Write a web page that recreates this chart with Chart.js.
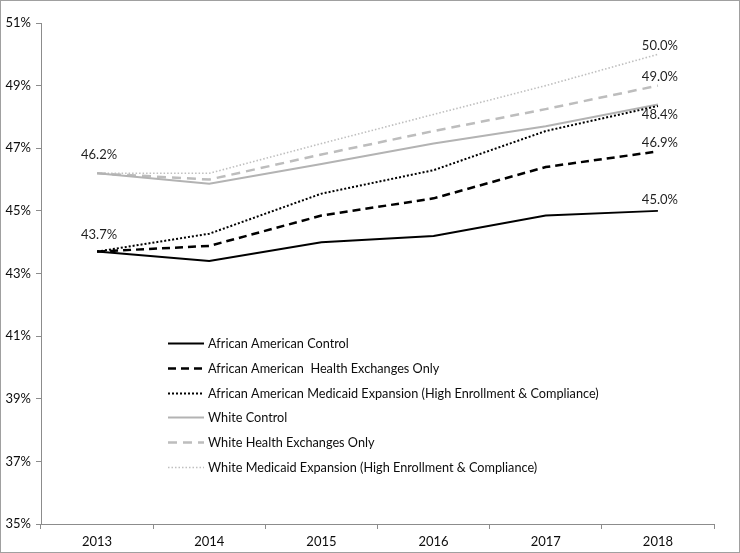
<!DOCTYPE html>
<html>
<head>
<meta charset="utf-8">
<script src="https://cdn.jsdelivr.net/npm/chart.js"></script>
<style>
  html, body { margin: 0; padding: 0; background: #fff; }
  #wrap {
    width: 740px; height: 553px;
    box-sizing: border-box;
    border: 1px solid #a0a0a0;
    background: #fff;
  }
  canvas { display: block; }
</style>
</head>
<body>
<div id="wrap"><canvas id="chart" width="738" height="551"></canvas></div>
<script>
// ---- chart data ----
const years = ['2013', '2014', '2015', '2016', '2017', '2018'];

const aaControl  = [43.7, 43.4, 44.0, 44.2, 44.85, 45.0];
const aaExchange = [43.7, 43.88, 44.85, 45.4, 46.4, 46.9];
const aaMedicaid = [43.7, 44.27, 45.55, 46.3, 47.55, 48.35];
const whControl  = [46.2, 45.87, 46.5, 47.15, 47.7, 48.4];
const whExchange = [46.2, 46.0, 46.8, 47.55, 48.25, 49.0];
const whMedicaid = [46.2, 46.2, 47.15, 48.08, 49.0, 50.0];

const yTicks = [35, 37, 39, 41, 43, 45, 47, 49, 51];

const FONT = 'Lato, "Open Sans", sans-serif';

// value labels: which series / which point, drawn above or below the line
const valueLabels = [
    { ds: 3, i: 0, pos: 'above', gap: 18 },
    { ds: 0, i: 0, pos: 'above', gap: 17 },
    { ds: 5, i: 5, pos: 'above', gap: 9 },
    { ds: 4, i: 5, pos: 'above', gap: 9 },
    { ds: 3, i: 5, pos: 'below', gap: 10 },
    { ds: 1, i: 5, pos: 'above', gap: 9 },
    { ds: 0, i: 5, pos: 'above', gap: 11 }
];

const valueLabelPlugin = {
    id: 'valueLabels',
    afterDatasetsDraw(chart) {
        const ctx = chart.ctx;
        ctx.save();
        ctx.font = '13px ' + FONT;
        ctx.fillStyle = '#1f1f1f';
        ctx.textAlign = 'center';
        ctx.textBaseline = 'middle';
        valueLabels.forEach(function (l) {
            const pt = chart.getDatasetMeta(l.ds).data[l.i];
            const v = chart.data.datasets[l.ds].data[l.i];
            const y = l.pos === 'above' ? pt.y - l.gap : pt.y + l.gap;
            ctx.fillText(v.toFixed(1) + '%', pt.x + 2, y);
        });
        ctx.restore();
    }
};

// legend drawn inside the plot area, lower left
const innerLegendPlugin = {
    id: 'innerLegend',
    afterDraw(chart) {
        const ctx = chart.ctx;
        const x0 = 167, y0 = 342, rowH = 24.8, lineW = 36;
        ctx.save();
        ctx.font = '12.7px ' + FONT;
        ctx.fillStyle = '#0d0d0d';
        ctx.textBaseline = 'middle';
        chart.data.datasets.forEach(function (ds, k) {
            const y = Math.round(y0 + k * rowH) + 0.5;
            ctx.beginPath();
            ctx.setLineDash(ds.borderDash || []);
            ctx.lineWidth = ds.borderWidth;
            ctx.strokeStyle = ds.borderColor;
            ctx.moveTo(x0, y);
            ctx.lineTo(x0 + lineW, y);
            ctx.stroke();
            ctx.setLineDash([]);
            ctx.fillText(ds.label, x0 + lineW + 4, y);
        });
        ctx.restore();
    }
};

new Chart(document.getElementById('chart'), {
    type: 'line',
    data: {
        labels: years,
        datasets: [
            {
                label: 'African American Control',
                data: aaControl,
                borderColor: '#000000',
                borderWidth: 2,
                borderDash: []
            },
            {
                label: 'African American  Health Exchanges Only',
                data: aaExchange,
                borderColor: '#000000',
                borderWidth: 2.5,
                borderDash: [8, 5]
            },
            {
                label: 'African American Medicaid Expansion (High Enrollment & Compliance)',
                data: aaMedicaid,
                borderColor: '#000000',
                borderWidth: 2,
                borderDash: [2, 2]
            },
            {
                label: 'White Control',
                data: whControl,
                borderColor: '#b3b3b3',
                borderWidth: 2,
                borderDash: []
            },
            {
                label: 'White Health Exchanges Only',
                data: whExchange,
                borderColor: '#bdbdbd',
                borderWidth: 2.5,
                borderDash: [9, 6]
            },
            {
                label: 'White Medicaid Expansion (High Enrollment & Compliance)',
                data: whMedicaid,
                borderColor: '#bfbfbf',
                borderWidth: 1.6,
                borderDash: [1.5, 2]
            }
        ]
    },
    options: {
        responsive: false,
        animation: false,
        devicePixelRatio: 1,
        elements: {
            point: { radius: 0, hoverRadius: 0 },
            line: { tension: 0, fill: false, borderCapStyle: 'butt' }
        },
        layout: {
            padding: { top: 22, right: 25, left: 0, bottom: 0 }
        },
        plugins: {
            legend: { display: false },
            tooltip: { enabled: false }
        },
        scales: {
            x: {
                offset: true,
                grid: {
                    drawOnChartArea: false,
                    drawTicks: true,
                    tickLength: 5,
                    color: '#8c8c8c',
                    offset: true
                },
                border: { display: true, color: '#8c8c8c', width: 1 },
                ticks: {
                    font: { family: FONT, size: 13 },
                    color: '#0d0d0d',
                    padding: 5,
                    maxRotation: 0
                },
                afterFit(scale) { scale.height = 28; }
            },
            y: {
                min: 35,
                max: 51,
                afterBuildTicks(scale) {
                    scale.ticks = yTicks.map(function (v) { return { value: v }; });
                },
                grid: {
                    drawOnChartArea: false,
                    drawTicks: true,
                    tickLength: 5,
                    color: '#8c8c8c'
                },
                border: { display: true, color: '#8c8c8c', width: 1 },
                ticks: {
                    font: { family: FONT, size: 13 },
                    color: '#0d0d0d',
                    padding: 5,
                    callback: function (v) { return v + '%'; }
                },
                afterFit(scale) { scale.width = 40; }
            }
        }
    },
    plugins: [valueLabelPlugin, innerLegendPlugin]
});
</script>
</body>
</html>
